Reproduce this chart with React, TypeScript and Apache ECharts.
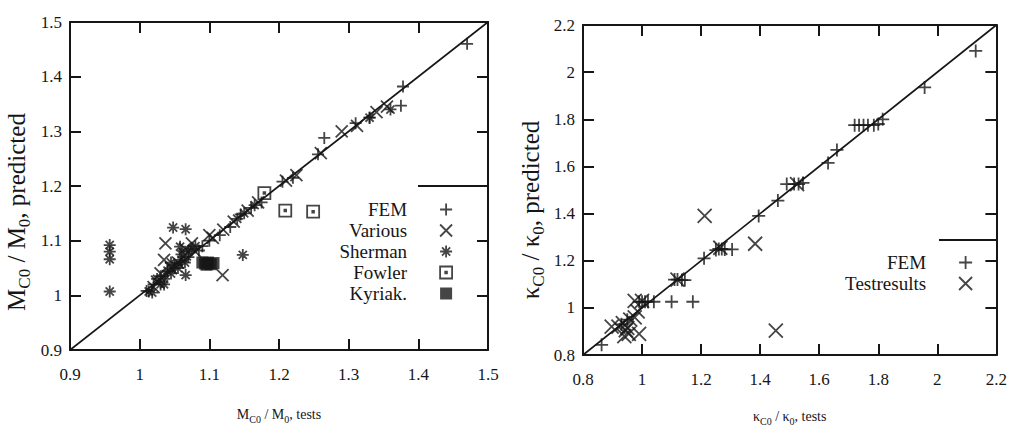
import React, { useEffect, useRef } from "react";
import * as echarts from "echarts";

const FONT = "Liberation Serif, Times New Roman, serif";
const INK = "#161616";

// ---- Left plot: M_C0 / M_0 ----
const leftTicks = [0.9, 1.0, 1.1, 1.2, 1.3, 1.4, 1.5];
const leftDiagonal = [[0.9, 0.9], [1.5, 1.5]];
const femLeft = [
  [1.47, 1.46], [1.378, 1.382], [1.375, 1.347], [1.265, 1.288], [1.256, 1.258],
  [1.22, 1.215], [1.205, 1.208], [1.175, 1.17], [1.16, 1.16], [1.145, 1.148],
  [1.13, 1.125], [1.115, 1.11], [1.1, 1.1], [1.09, 1.09], [1.085, 1.082],
  [1.07, 1.07], [1.06, 1.062], [1.05, 1.05], [1.04, 1.043], [1.03, 1.035],
  [1.02, 1.02], [1.01, 1.008], [1.33, 1.325], [1.31, 1.315],
];
const variousLeft = [
  [1.037, 1.095], [1.119, 1.037], [1.035, 1.065], [1.29, 1.3], [1.312, 1.31],
  [1.34, 1.335], [1.355, 1.345], [1.225, 1.22], [1.21, 1.21], [1.26, 1.26],
  [1.17, 1.17], [1.155, 1.155], [1.135, 1.135], [1.12, 1.12], [1.105, 1.105],
  [1.08, 1.08], [1.065, 1.075], [1.055, 1.06], [1.045, 1.05], [1.03, 1.04],
  [1.025, 1.025], [1.02, 1.015], [1.065, 1.085], [1.075, 1.095], [1.1, 1.11],
];
const shermanLeft = [
  [0.957, 1.092], [0.957, 1.08], [0.957, 1.066], [0.957, 1.007], [1.048, 1.124],
  [1.066, 1.121], [1.148, 1.074], [1.066, 1.037], [1.058, 1.089], [1.013, 1.007],
  [1.018, 1.005], [1.025, 1.03], [1.03, 1.02], [1.035, 1.03], [1.04, 1.045],
  [1.045, 1.04], [1.05, 1.055], [1.055, 1.05], [1.06, 1.065], [1.065, 1.06],
  [1.07, 1.08], [1.075, 1.085], [1.08, 1.09], [1.06, 1.075], [1.045, 1.06],
  [1.14, 1.14], [1.15, 1.15], [1.165, 1.165], [1.33, 1.325], [1.36, 1.34],
  [1.035, 1.02],
];
const fowlerLeft = [[1.179, 1.187], [1.209, 1.155], [1.249, 1.153]];
const kyriakLeft = [
  [1.09, 1.06], [1.094, 1.058], [1.098, 1.06], [1.102, 1.057], [1.106, 1.059],
  [1.096, 1.056],
];

// ---- Right plot: kappa_C0 / kappa_0 ----
const rightTicks = [0.8, 1.0, 1.2, 1.4, 1.6, 1.8, 2.0, 2.2];
const rightDiagonal = [[0.8, 0.8], [2.2, 2.2]];
const femRight = [
  [2.13, 2.09], [1.957, 1.935], [1.72, 1.775], [1.735, 1.775], [1.75, 1.775],
  [1.765, 1.775], [1.785, 1.775], [1.8, 1.78], [1.815, 1.8], [1.66, 1.67],
  [1.63, 1.615], [1.49, 1.525], [1.515, 1.525], [1.53, 1.525], [1.545, 1.53],
  [1.46, 1.455], [1.395, 1.39], [1.21, 1.21], [1.25, 1.245], [1.26, 1.25],
  [1.27, 1.25], [1.28, 1.248], [1.305, 1.248], [1.11, 1.12], [1.12, 1.12],
  [1.135, 1.118], [1.145, 1.118], [0.99, 1.026], [1.0, 1.026], [1.01, 1.026],
  [1.02, 1.026], [1.04, 1.026], [1.1, 1.026], [1.172, 1.026], [0.863, 0.843],
  [0.95, 0.95], [0.93, 0.93],
];
const testRight = [
  [1.212, 1.39], [1.383, 1.272], [1.453, 0.903], [0.975, 1.03], [0.985, 0.985],
  [0.975, 0.96], [0.897, 0.92], [0.935, 0.935], [0.945, 0.905], [0.955, 0.89],
  [0.99, 0.89], [0.92, 0.92], [0.96, 0.95], [0.95, 0.915], [1.12, 1.12],
  [1.265, 1.255], [1.525, 1.525], [1.0, 1.03], [0.94, 0.88],
];

const leftLegend = ["FEM", "Various", "Sherman", "Fowler", "Kyriak."];
const rightLegend = ["FEM", "Testresults"];

const PLUS = "path://M0 5L10 5M5 0L5 10";
const CROSS = "path://M0 0L10 10M10 0L0 10";
const STAR = "path://M0 5L10 5M5 0L5 10M1.6 1.6L8.4 8.4M8.4 1.6L1.6 8.4";
const DOTBOX = "path://M0 0L10 0L10 10L0 10Z M4.3 4.3L5.7 4.3L5.7 5.7L4.3 5.7Z";

const openStyle = { color: "transparent", borderColor: INK, borderWidth: 1.8 };

const nameRich = {
  m: { fontFamily: FONT, fontSize: 25, lineHeight: 33, color: INK },
  s: { fontFamily: FONT, fontSize: 17, lineHeight: 17, verticalAlign: "bottom", color: INK },
};
const xNameRich = {
  m: { fontFamily: FONT, fontSize: 14, lineHeight: 20, color: INK },
  s: { fontFamily: FONT, fontSize: 10, lineHeight: 10, verticalAlign: "bottom", color: INK },
};
const tickRich = { t: { fontFamily: FONT, fontSize: 17, color: INK } };
const legendRich = {
  t: { fontFamily: FONT, fontSize: 19, lineHeight: 18, color: INK, padding: [0, 28, 0, 0] },
};

function fmt(v: number) {
  return "{t|" + String(Math.round(v * 10) / 10) + "}";
}

function axisBase(gridIndex: number, min: number, max: number, interval: number) {
  return {
    gridIndex,
    type: "value" as const,
    min,
    max,
    interval,
    splitLine: { show: false },
    axisLine: { show: true, lineStyle: { color: INK, width: 2 } },
    axisTick: { show: true, inside: true, length: 11, lineStyle: { color: INK, width: 2 } },
  };
}

export default function App() {
  const ref = useRef<HTMLDivElement>(null);
  useEffect(() => {
    if (!ref.current) return;
    const chart = echarts.init(ref.current, undefined, { renderer: "svg" });
    const labelStyle = { color: INK, fontFamily: FONT, fontSize: 17, formatter: fmt, rich: tickRich };
    const legendCommon = {
      orient: "vertical",
      align: "right",
      padding: 0,
      itemGap: 2,
      selectedMode: false,
      formatter: (n: string) => "{t|" + n + "}",
      textStyle: { fontFamily: FONT, fontSize: 19, color: INK, rich: legendRich },
      itemStyle: { borderWidth: 1.8 },
    };
    const option: any = {
      animation: false,
      backgroundColor: "#ffffff",
      textStyle: { fontFamily: FONT },
      grid: [
        { left: 70, top: 22, width: 418, height: 328 },
        { left: 583, top: 25, width: 415, height: 330 },
      ],
      xAxis: [
        {
          ...axisBase(0, 0.9, 1.5, 0.1),
          position: "bottom",
          axisLabel: { ...labelStyle, margin: 16 },
          name: "{m|M}{s|C0}{m| / M}{s|0}{m|, tests}",
          nameLocation: "middle",
          nameGap: 54,
          nameTextStyle: { fontFamily: FONT, rich: xNameRich },
        },
        { ...axisBase(0, 0.9, 1.5, 0.1), position: "top", axisLabel: { show: false } },
        {
          ...axisBase(1, 0.8, 2.2, 0.2),
          position: "bottom",
          axisLabel: { ...labelStyle, margin: 16 },
          name: "{m|κ}{s|C0}{m| / κ}{s|0}{m|, tests}",
          nameLocation: "middle",
          nameGap: 51,
          nameTextStyle: { fontFamily: FONT, rich: xNameRich },
        },
        { ...axisBase(1, 0.8, 2.2, 0.2), position: "top", axisLabel: { show: false } },
      ],
      yAxis: [
        {
          ...axisBase(0, 0.9, 1.5, 0.1),
          position: "left",
          axisLabel: { ...labelStyle, margin: 8 },
          name: "{m|M}{s|C0}{m| / M}{s|0}{m|, predicted}",
          nameLocation: "middle",
          nameGap: 37,
          nameTextStyle: { fontFamily: FONT, rich: nameRich, padding: [0, 52, 0, 0] },
        },
        { ...axisBase(0, 0.9, 1.5, 0.1), position: "right", axisLabel: { show: false } },
        {
          ...axisBase(1, 0.8, 2.2, 0.2),
          position: "left",
          axisLabel: { ...labelStyle, margin: 8 },
          name: "{m|κ}{s|C0}{m| / κ}{s|0}{m|, predicted}",
          nameLocation: "middle",
          nameGap: 36,
          nameTextStyle: { fontFamily: FONT, rich: nameRich, padding: [0, 40, 0, 0] },
        },
        { ...axisBase(1, 0.8, 2.2, 0.2), position: "right", axisLabel: { show: false } },
      ],
      legend: [
        {
          ...legendCommon,
          data: leftLegend,
          right: 557,
          top: 200,
          itemWidth: 12,
          itemHeight: 12,
        },
        {
          ...legendCommon,
          data: rightLegend,
          right: 37,
          top: 253,
          itemWidth: 13,
          itemHeight: 13,
        },
      ],
      graphic: [
        { type: "line", shape: { x1: 418, y1: 186, x2: 488, y2: 186 }, style: { stroke: INK, lineWidth: 1.8 } },
        { type: "line", shape: { x1: 939, y1: 240, x2: 997, y2: 240 }, style: { stroke: INK, lineWidth: 1.8 } },
      ],
      series: [
        {
          type: "line", xAxisIndex: 0, yAxisIndex: 0, data: leftDiagonal, showSymbol: false,
          silent: true, lineStyle: { color: INK, width: 1.6 },
        },
        { name: "FEM", type: "scatter", xAxisIndex: 0, yAxisIndex: 0, data: femLeft, symbol: PLUS, symbolSize: 12, itemStyle: openStyle },
        { name: "Various", type: "scatter", xAxisIndex: 0, yAxisIndex: 0, data: variousLeft, symbol: CROSS, symbolSize: 12, itemStyle: openStyle },
        { name: "Sherman", type: "scatter", xAxisIndex: 0, yAxisIndex: 0, data: shermanLeft, symbol: STAR, symbolSize: 12, itemStyle: openStyle },
        { name: "Fowler", type: "scatter", xAxisIndex: 0, yAxisIndex: 0, data: fowlerLeft, symbol: DOTBOX, symbolSize: 12, itemStyle: openStyle },
        { name: "Kyriak.", type: "scatter", xAxisIndex: 0, yAxisIndex: 0, data: kyriakLeft, symbol: "rect", symbolSize: 12, itemStyle: { color: INK } },
        {
          type: "line", xAxisIndex: 2, yAxisIndex: 2, data: rightDiagonal, showSymbol: false,
          silent: true, lineStyle: { color: INK, width: 1.6 },
        },
        { name: "FEM", type: "scatter", xAxisIndex: 2, yAxisIndex: 2, data: femRight, symbol: PLUS, symbolSize: 13, itemStyle: openStyle },
        { name: "Testresults", type: "scatter", xAxisIndex: 2, yAxisIndex: 2, data: testRight, symbol: CROSS, symbolSize: 14, itemStyle: openStyle },
      ],
    };
    chart.setOption(option);
    return () => chart.dispose();
  }, []);
  return <div ref={ref} style={{ width: 1010, height: 431, position: "absolute", left: 0, top: 0 }} />;
}
